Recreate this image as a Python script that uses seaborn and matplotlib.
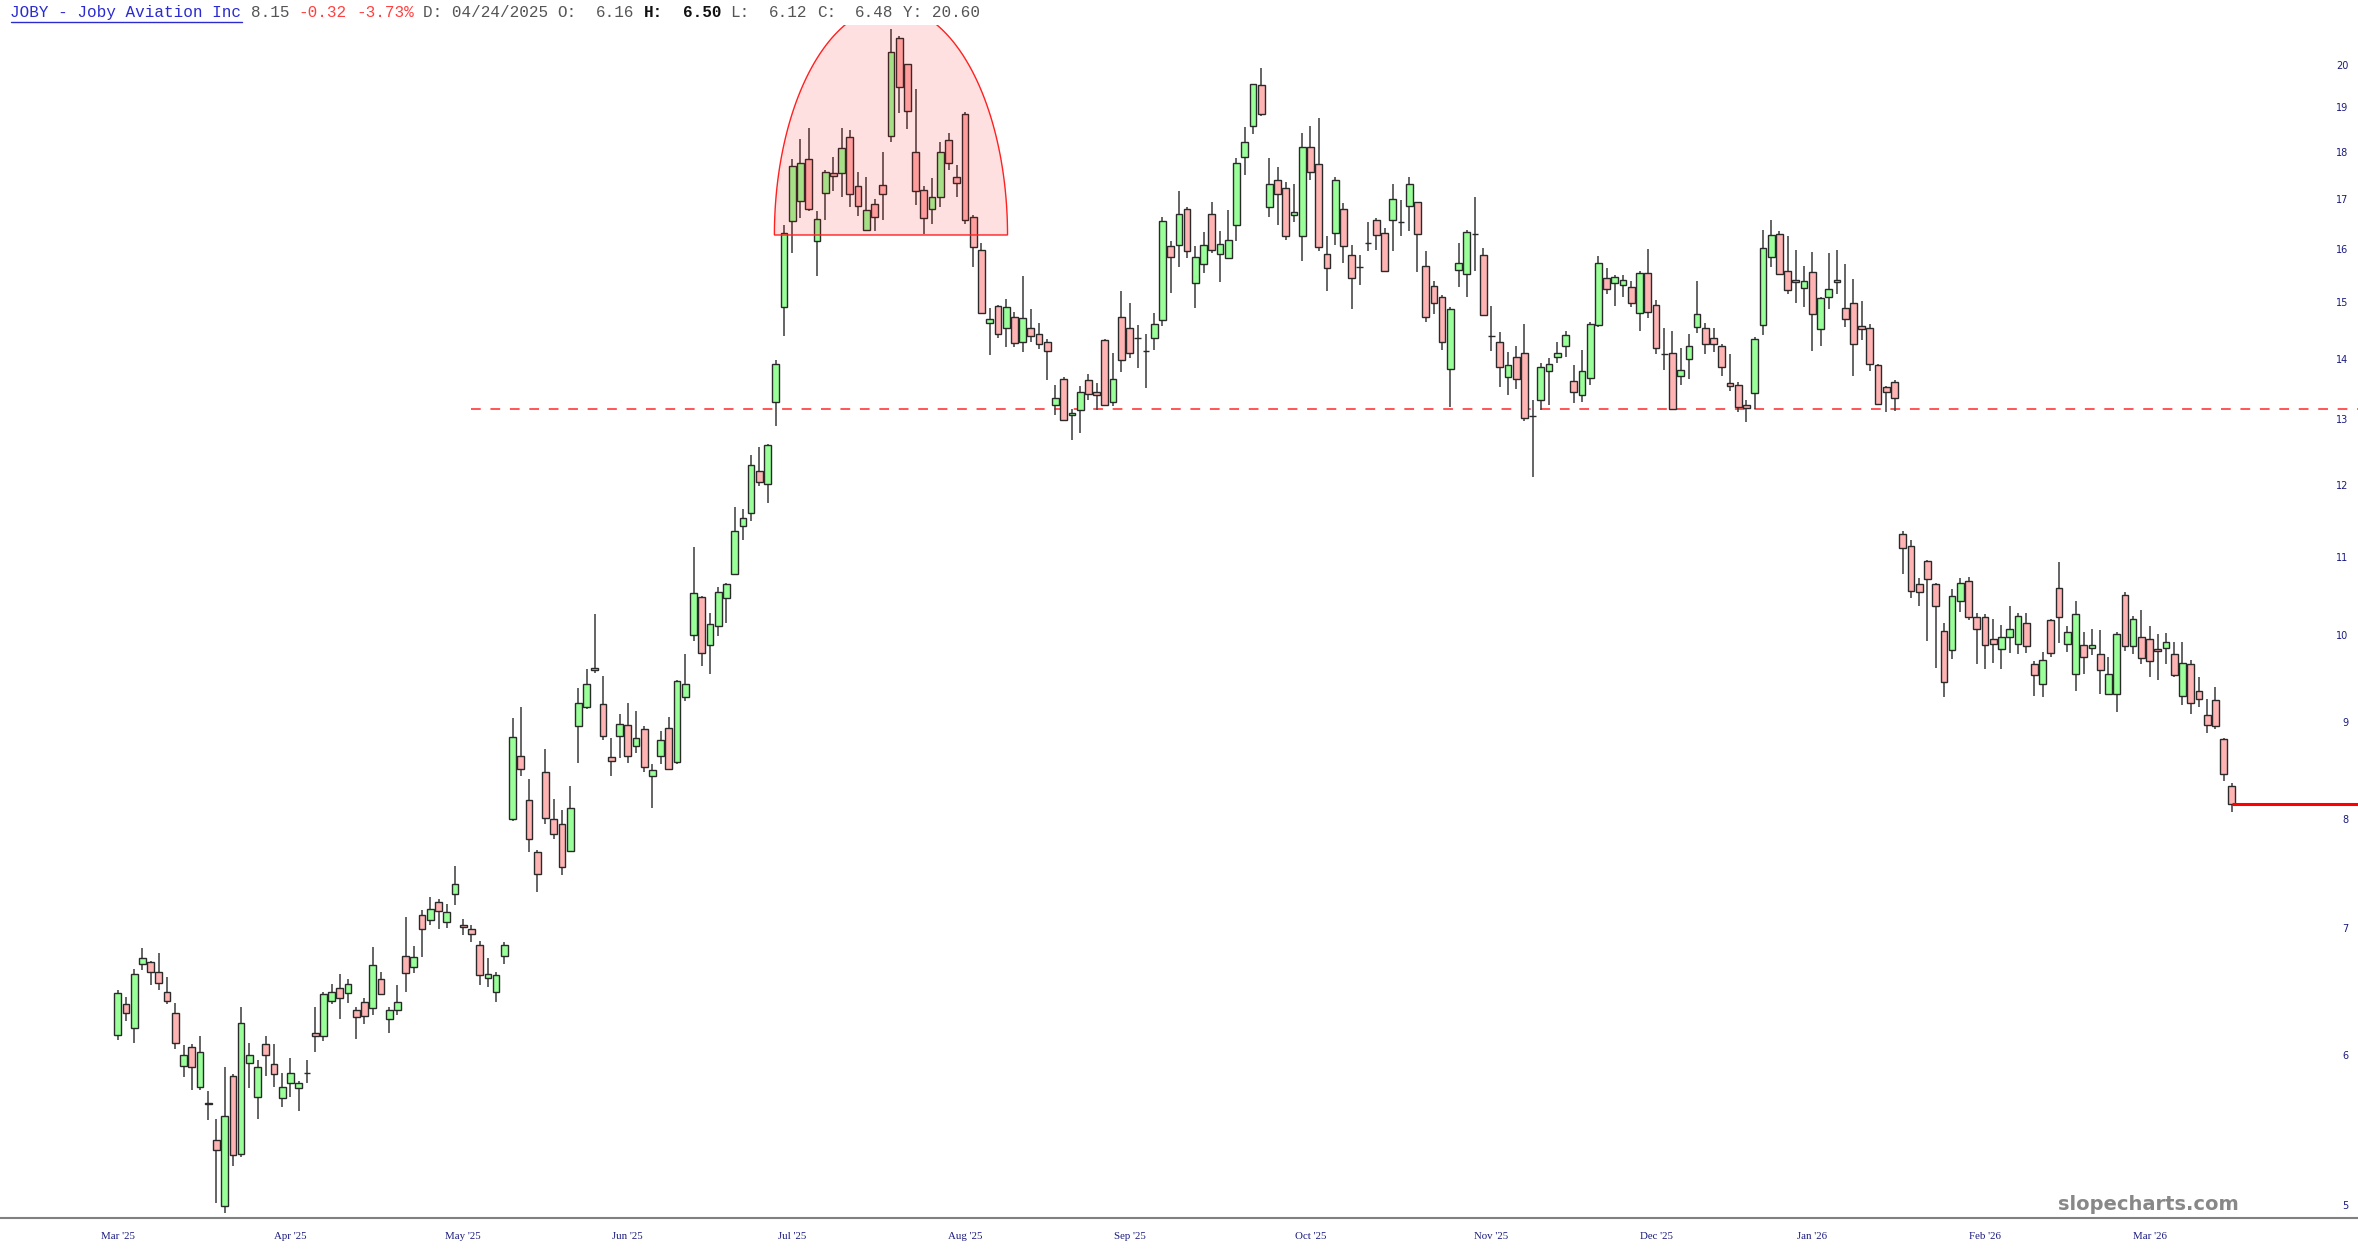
import matplotlib
matplotlib.use("Agg")
import matplotlib.pyplot as plt
import matplotlib.transforms as mtransforms
from matplotlib.ticker import NullLocator
import numpy as np
import pandas as pd
import seaborn as sns

# daily candles (first one is 04/24/2025)
opens = [
    6.16, 6.39, 6.21, 6.71, 6.73, 6.65, 6.49, 6.32, 5.93, 6.07,
    5.78, 5.67, 5.42, 5.00, 5.86, 5.33, 5.95, 5.71, 6.09, 5.94,
    5.70, 5.81, 5.77, 5.88, 6.17, 6.15, 6.42, 6.52, 6.48, 6.35,
    6.41, 6.36, 6.59, 6.28, 6.35, 6.78, 6.69, 7.12, 7.08, 7.24,
    7.06, 7.31, 7.04, 7.00, 6.87, 6.60, 6.49, 6.78, 8.01, 8.64,
    8.19, 7.69, 8.48, 8.01, 7.96, 7.70, 8.96, 9.18, 9.60, 9.21,
    8.63, 8.86, 8.98, 8.75, 8.93, 8.44, 8.64, 8.94, 8.58, 9.29,
    10.02, 10.49, 9.89, 10.13, 10.47, 10.79, 11.43, 11.62, 12.23, 12.03,
    13.29, 14.93, 16.57, 16.97, 17.87, 16.17, 17.15, 17.57, 17.57, 18.35,
    17.28, 16.38, 16.92, 17.31, 18.37, 20.71, 20.05, 18.03, 17.20, 16.82,
    17.06, 18.28, 17.49, 18.88, 16.65, 15.99, 14.63, 14.95, 14.55, 14.74,
    14.31, 14.54, 14.44, 14.31, 13.25, 13.68, 13.08, 13.17, 13.66, 13.46,
    14.34, 13.29, 14.74, 14.54, 14.38, 14.15, 14.37, 14.69, 16.07, 16.10,
    16.81, 15.36, 15.72, 16.71, 15.92, 15.84, 16.48, 17.91, 18.60, 19.54,
    16.85, 17.42, 17.24, 16.69, 16.26, 18.12, 17.76, 15.91, 16.33, 16.81,
    15.90, 15.66, 16.14, 16.59, 16.32, 16.59, 16.54, 16.87, 16.95, 15.69,
    15.31, 15.10, 13.84, 15.61, 15.53, 16.30, 15.90, 14.41, 14.30, 13.71,
    14.05, 14.12, 13.07, 13.33, 13.81, 14.05, 14.24, 13.64, 13.41, 13.69,
    14.60, 15.46, 15.37, 15.32, 15.30, 14.81, 15.55, 14.96, 14.09, 14.12,
    13.73, 14.01, 14.57, 14.55, 14.37, 14.23, 13.60, 13.57, 13.25, 13.44,
    14.60, 15.86, 16.31, 15.60, 15.42, 15.28, 15.57, 14.53, 15.10, 15.39,
    14.90, 14.99, 14.59, 14.54, 13.90, 13.54, 13.63, 11.33, 11.16, 10.65,
    10.96, 10.66, 10.06, 9.83, 10.44, 10.69, 10.23, 10.23, 9.96, 9.85,
    9.99, 9.91, 10.16, 9.67, 9.43, 10.20, 10.60, 9.90, 9.55, 9.89,
    9.86, 9.78, 9.32, 9.32, 10.52, 9.88, 9.99, 9.96, 9.85, 9.86,
    9.78, 9.30, 9.67, 9.35, 9.09, 9.25, 8.82, 8.33,
]
highs = [
    6.50, 6.45, 6.67, 6.84, 6.74, 6.80, 6.61, 6.40, 6.08, 6.09,
    6.15, 5.75, 5.56, 5.92, 5.87, 6.37, 6.10, 5.97, 6.15, 6.09,
    5.88, 5.99, 5.82, 5.97, 6.37, 6.49, 6.55, 6.63, 6.59, 6.37,
    6.44, 6.85, 6.65, 6.37, 6.54, 7.11, 6.86, 7.17, 7.28, 7.26,
    7.22, 7.56, 7.09, 7.04, 6.90, 6.76, 6.65, 6.89, 9.05, 9.17,
    8.41, 7.71, 8.72, 8.20, 8.09, 8.33, 9.39, 9.61, 10.27, 9.53,
    8.84, 9.10, 9.22, 9.13, 8.97, 8.56, 8.91, 9.06, 9.48, 9.78,
    11.15, 10.50, 10.28, 10.61, 10.67, 11.70, 11.68, 12.46, 12.58, 12.64,
    13.99, 16.48, 17.86, 18.31, 18.55, 16.78, 17.62, 17.90, 18.55, 18.50,
    17.58, 17.49, 17.01, 18.01, 20.92, 20.75, 20.06, 19.45, 17.28, 17.46,
    18.24, 18.44, 17.74, 18.91, 16.70, 16.14, 14.91, 14.96, 15.07, 14.84,
    15.50, 14.88, 14.64, 14.35, 13.58, 13.71, 13.18, 13.55, 13.76, 13.60,
    14.36, 14.11, 15.22, 15.00, 14.60, 14.45, 14.81, 16.65, 16.17, 17.19,
    16.86, 16.08, 16.35, 16.95, 16.37, 16.79, 17.89, 18.58, 19.57, 19.95,
    17.89, 17.70, 17.38, 17.33, 18.45, 18.60, 18.77, 16.26, 17.49, 16.94,
    16.09, 15.90, 16.55, 16.63, 16.42, 17.34, 16.99, 17.49, 16.96, 15.98,
    15.41, 15.15, 14.93, 16.14, 16.38, 17.06, 16.04, 14.95, 14.48, 14.13,
    14.23, 14.62, 13.32, 13.94, 14.02, 14.30, 14.50, 13.91, 14.16, 14.66,
    15.87, 15.65, 15.52, 15.51, 15.40, 15.59, 16.01, 15.06, 14.54, 14.50,
    14.19, 14.44, 15.41, 14.63, 14.54, 14.27, 14.10, 13.63, 13.32, 14.39,
    16.38, 16.58, 16.36, 16.27, 16.00, 15.68, 15.96, 15.11, 15.93, 16.00,
    15.73, 15.45, 15.03, 14.61, 13.92, 13.56, 13.66, 11.36, 11.24, 10.73,
    10.97, 10.67, 10.16, 10.59, 10.73, 10.74, 10.29, 10.27, 10.21, 10.14,
    10.38, 10.29, 10.29, 9.70, 9.81, 10.21, 10.95, 10.13, 10.44, 10.05,
    10.09, 10.08, 9.75, 10.05, 10.55, 10.25, 10.32, 10.12, 10.03, 10.04,
    9.93, 9.93, 9.72, 9.52, 9.26, 9.40, 8.83, 8.36,
]
lows = [
    6.12, 6.26, 6.10, 6.66, 6.54, 6.50, 6.39, 6.05, 5.85, 5.76,
    5.76, 5.55, 5.02, 4.96, 5.25, 5.31, 5.77, 5.56, 5.86, 5.78,
    5.64, 5.71, 5.61, 5.81, 6.03, 6.11, 6.39, 6.28, 6.40, 6.13,
    6.24, 6.31, 6.46, 6.17, 6.31, 6.49, 6.64, 6.77, 7.04, 7.00,
    7.01, 7.21, 6.95, 6.89, 6.54, 6.53, 6.41, 6.71, 7.99, 8.44,
    7.69, 7.33, 7.96, 7.81, 7.48, 7.69, 8.57, 9.15, 9.56, 8.81,
    8.44, 8.62, 8.57, 8.68, 8.48, 8.11, 8.56, 8.50, 8.56, 9.24,
    9.94, 9.64, 9.55, 10.00, 10.16, 10.77, 11.24, 11.50, 12.01, 11.76,
    12.91, 14.41, 15.94, 16.63, 16.78, 15.50, 16.59, 17.18, 17.07, 16.86,
    16.68, 16.38, 16.36, 16.58, 18.24, 18.90, 18.53, 16.90, 16.30, 16.51,
    16.86, 17.64, 17.06, 16.51, 15.67, 14.80, 14.08, 14.38, 14.21, 14.21,
    14.13, 14.31, 14.18, 13.66, 13.08, 12.99, 12.70, 12.80, 13.33, 13.16,
    13.24, 13.23, 13.79, 14.02, 13.86, 13.52, 14.16, 14.59, 15.18, 15.67,
    15.84, 14.90, 15.55, 15.93, 15.38, 15.83, 16.17, 17.52, 18.41, 18.83,
    16.65, 16.49, 16.19, 16.55, 15.78, 17.42, 15.97, 15.22, 16.09, 15.74,
    14.88, 15.32, 15.98, 15.99, 15.59, 15.97, 16.27, 16.36, 15.58, 14.65,
    14.79, 14.16, 13.22, 15.30, 15.11, 15.60, 14.76, 14.14, 13.54, 13.41,
    13.51, 12.99, 12.13, 13.17, 13.25, 13.94, 14.05, 13.28, 13.30, 13.58,
    14.57, 15.17, 14.94, 15.10, 14.92, 14.49, 14.72, 14.09, 13.82, 13.17,
    13.58, 13.68, 14.46, 14.10, 14.13, 13.73, 13.48, 13.14, 12.98, 13.18,
    14.43, 15.67, 15.52, 15.16, 14.99, 14.93, 14.14, 14.24, 14.88, 15.16,
    14.57, 13.72, 14.33, 13.80, 13.25, 13.13, 13.15, 10.79, 10.48, 10.37,
    9.94, 9.62, 9.29, 9.73, 10.30, 10.20, 9.67, 9.61, 9.68, 9.61,
    9.80, 9.79, 9.80, 9.30, 9.29, 9.75, 9.92, 9.81, 9.36, 9.55,
    9.77, 9.32, 9.31, 9.12, 9.82, 9.78, 9.67, 9.52, 9.48, 9.67,
    9.52, 9.20, 9.10, 9.17, 8.89, 8.93, 8.38, 8.07,
]
closes = [
    6.48, 6.32, 6.63, 6.76, 6.65, 6.56, 6.42, 6.10, 6.01, 5.92,
    6.03, 5.66, 5.35, 5.58, 5.32, 6.25, 6.01, 5.92, 6.01, 5.87,
    5.78, 5.88, 5.81, 5.88, 6.15, 6.47, 6.49, 6.44, 6.55, 6.29,
    6.30, 6.70, 6.47, 6.35, 6.41, 6.64, 6.77, 7.00, 7.18, 7.16,
    7.15, 7.40, 7.02, 6.96, 6.62, 6.63, 6.62, 6.87, 8.85, 8.51,
    7.81, 7.49, 8.02, 7.86, 7.55, 8.11, 9.22, 9.43, 9.62, 8.86,
    8.59, 8.99, 8.64, 8.83, 8.53, 8.50, 8.81, 8.51, 9.47, 9.43,
    10.54, 9.80, 10.15, 10.55, 10.65, 11.37, 11.55, 12.32, 12.06, 12.62,
    13.93, 16.33, 17.71, 17.78, 16.82, 16.60, 17.59, 17.51, 18.10, 17.13,
    16.87, 16.80, 16.65, 17.13, 20.36, 19.51, 18.94, 17.19, 16.62, 17.05,
    18.01, 17.78, 17.35, 16.59, 16.05, 14.82, 14.71, 14.44, 14.93, 14.29,
    14.72, 14.41, 14.27, 14.15, 13.36, 13.01, 13.12, 13.45, 13.42, 13.41,
    13.25, 13.67, 14.00, 14.11, 14.38, 14.15, 14.62, 16.57, 15.86, 16.71,
    15.97, 15.86, 16.09, 15.99, 16.12, 16.20, 17.79, 18.25, 19.57, 18.88,
    17.34, 17.12, 16.26, 16.76, 18.14, 17.58, 16.05, 15.65, 17.42, 16.08,
    15.46, 15.66, 16.14, 16.29, 15.60, 17.01, 16.54, 17.33, 16.31, 14.75,
    14.99, 14.31, 14.88, 15.75, 16.34, 16.30, 14.78, 14.41, 13.88, 13.91,
    13.67, 13.04, 13.07, 13.88, 13.92, 14.11, 14.43, 13.46, 13.81, 14.62,
    15.75, 15.25, 15.48, 15.42, 14.99, 15.55, 14.84, 14.20, 14.09, 13.18,
    13.83, 14.23, 14.80, 14.27, 14.27, 13.87, 13.55, 13.21, 13.20, 14.35,
    16.04, 16.29, 15.54, 15.24, 15.39, 15.40, 14.80, 15.09, 15.26, 15.43,
    14.71, 14.27, 14.53, 13.92, 13.27, 13.45, 13.36, 11.13, 10.56, 10.55,
    10.72, 10.37, 9.46, 10.50, 10.67, 10.23, 10.09, 9.89, 9.91, 9.99,
    10.09, 10.25, 9.88, 9.54, 9.71, 9.80, 10.23, 10.05, 10.27, 9.75,
    9.89, 9.60, 9.55, 10.03, 9.88, 10.21, 9.74, 9.70, 9.82, 9.93,
    9.54, 9.68, 9.22, 9.27, 8.98, 8.97, 8.46, 8.15,
]

month_labels = ["Mar '25", "Apr '25", "May '25", "Jun '25", "Jul '25", "Aug '25", "Sep '25",
                "Oct '25", "Nov '25", "Dec '25", "Jan '26", "Feb '26", "Mar '26"]
month_pos = [0, 21, 42, 62, 82, 103, 123, 145, 167, 187, 206, 227, 247]
price_ticks = [5, 6, 7, 8, 9, 10, 11, 12, 13, 14, 15, 16, 17, 18, 19, 20]

SUPPORT = 13.18
SUPPORT_START = 43
DOME_X, DOME_HALF_W = 94.0, 14.17
DOME_BASE, DOME_LOG_H = 16.29, 0.278

UP = "#99ff99"
DOWN = "#ffb3b3"
NAVY = "#1a1a80"
W, H = 2358, 1260
XMIN, XMAX = -14.31, 272.34

df = pd.DataFrame({"open": opens, "high": highs, "low": lows, "close": closes})
df["x"] = np.arange(len(df))
df["up"] = df["close"] >= df["open"]

sns.set_style("white")
plt.rcParams["font.family"] = ["DejaVu Sans"]

fig = plt.figure(figsize=(W / 100, H / 100), dpi=100)
ax = fig.add_axes([0, 42 / H, 1, 1 - 42 / H - 25 / H])
ax.set_yscale("log")

# wicks + bodies
ax.vlines(df["x"], df["low"], df["high"], colors="#3a3a3a", linewidth=1.1, zorder=2)
body_lo = df[["open", "close"]].min(axis=1)
body_h = (df["close"] - df["open"]).abs()
ax.bar(df["x"], body_h, bottom=body_lo, width=0.82,
       color=np.where(df["up"], UP, DOWN), edgecolor="#2a2a2a", linewidth=1.0, zorder=3)

# rounded top shape over July
t = np.linspace(0, np.pi, 200)
ax.fill(DOME_X + DOME_HALF_W * np.cos(t), DOME_BASE * np.exp(DOME_LOG_H * np.sin(t)),
        facecolor=(1, 0, 0, 0.12), edgecolor="#ff2020", linewidth=1.0, zorder=4)

ax.hlines(SUPPORT, SUPPORT_START, XMAX, colors="#ff5555", linestyles=(0, (5, 5)),
          linewidth=1.4, zorder=1)
ax.hlines(closes[-1], len(df) - 1, XMAX, colors="#ff0000", linewidth=2.2, zorder=5)

ax.set_xlim(XMIN, XMAX)
ax.set_ylim(4.928, 21.03)

ax.yaxis.set_major_locator(NullLocator())
ax.yaxis.set_minor_locator(NullLocator())
trans = mtransforms.blended_transform_factory(ax.transAxes, ax.transData)
for p in price_ticks:
    ax.text(2348.5 / W, p, str(p), transform=trans, ha="right", va="center",
            fontsize=7, color=NAVY)

ax.set_xticks(month_pos)
ax.set_xticklabels(month_labels, fontsize=7.8, color=NAVY, family="Liberation Serif")
ax.tick_params(axis="x", length=0, pad=10)

for side in ["top", "left", "right"]:
    ax.spines[side].set_visible(False)
ax.spines["bottom"].set_color("#808080")
ax.spines["bottom"].set_linewidth(1.5)

# header line, monospace, placed by character column
char_w = 9.6
header = [
    ("JOBY - Joby Aviation Inc", 0, "#2b2bd0", "normal"),
    ("8.15", 25, "#555555", "normal"),
    ("-0.32", 30, "#ff4040", "normal"),
    ("-3.73%", 36, "#ff4040", "normal"),
    ("D: 04/24/2025", 43, "#555555", "normal"),
    ("O:", 57, "#555555", "normal"),
    ("6.16", 61, "#555555", "normal"),
    ("H:", 66, "#111111", "bold"),
    ("6.50", 70, "#111111", "bold"),
    ("L:", 75, "#555555", "normal"),
    ("6.12", 79, "#555555", "normal"),
    ("C:", 84, "#555555", "normal"),
    ("6.48", 88, "#555555", "normal"),
    ("Y: 20.60", 93, "#555555", "normal"),
]
for txt, col, color, weight in header:
    fig.text((10.5 + col * char_w) / W, 1 - 17.3 / H, txt, ha="left", va="baseline",
             fontsize=11.5, family="Liberation Mono", color=color, fontweight=weight)
fig.add_artist(plt.Line2D([10.5 / W, 242 / W], [1 - 21.7 / H, 1 - 21.7 / H],
                          color="#2b2bd0", linewidth=1.0))

fig.text(2148 / W, 1 - 1210 / H, "slopecharts.com", ha="center", va="baseline",
         fontsize=14, fontweight="bold", color="#888888")

fig.savefig("out.png", dpi=100)
